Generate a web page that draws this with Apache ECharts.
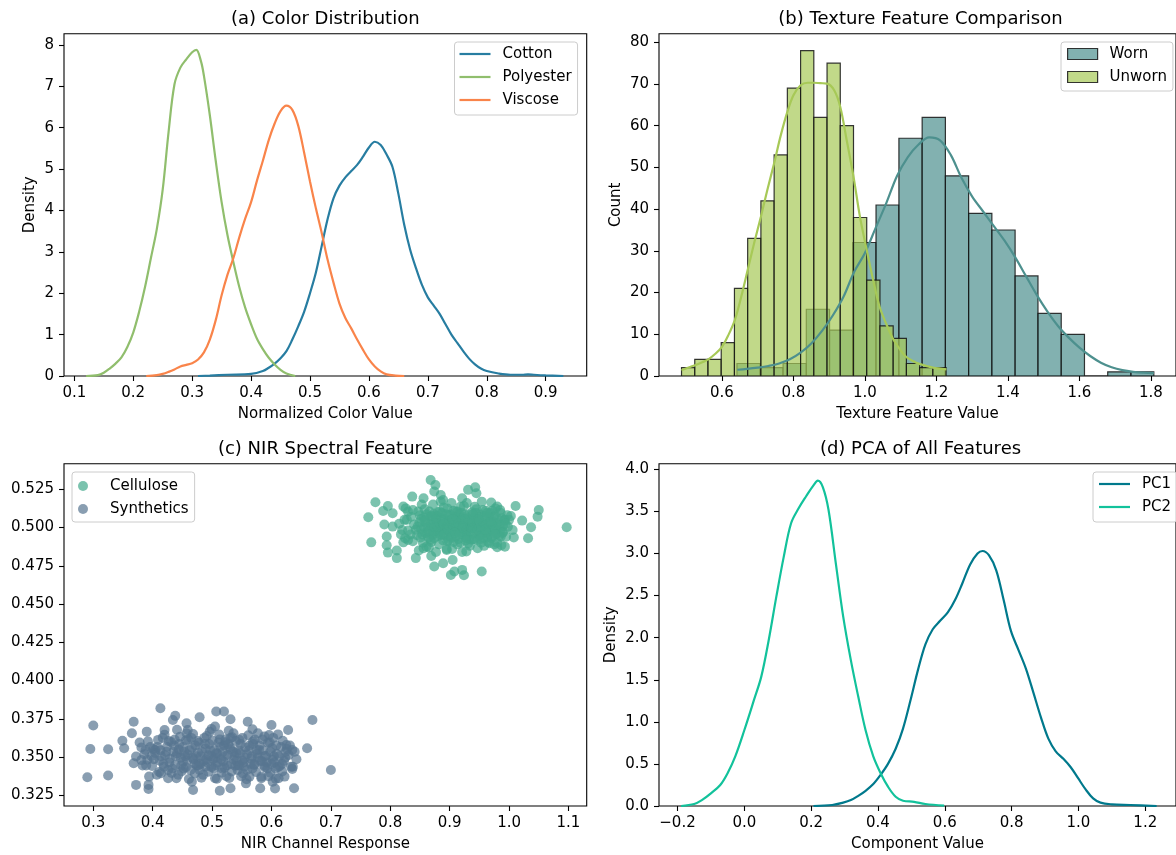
<!DOCTYPE html>
<html><head><meta charset="utf-8">
<script src="https://cdn.jsdelivr.net/npm/echarts@6/dist/echarts.min.js"></script>
<style>html,body{margin:0;padding:0;background:#fff}#c{width:1176px;height:855px}</style>
</head><body><div id="c"></div>
<script>
// ---------- (a) Color Distribution: KDE curves ----------
const cottonX = [0.31,0.33,0.36,0.40,0.42,0.43,0.44,0.45,0.46,0.47,0.48,0.49,0.50,0.51,0.52,0.53,0.54,0.55,0.56,0.57,0.58,0.59,0.60,0.61,0.62,0.63,0.64,0.65,0.66,0.67,0.68,0.69,0.70,0.71,0.72,0.73,0.74,0.75,0.76,0.77,0.78,0.79,0.80,0.82,0.84,0.86,0.87,0.88,0.90,0.93];
const cottonY = [0,0.01,0.03,0.05,0.12,0.2,0.3,0.43,0.6,0.88,1.2,1.55,2.0,2.5,3.15,3.8,4.3,4.6,4.8,4.95,5.1,5.3,5.52,5.66,5.58,5.35,5.05,4.4,3.65,3.05,2.6,2.2,1.9,1.7,1.5,1.25,1.0,0.8,0.6,0.42,0.28,0.18,0.12,0.06,0.03,0.03,0.04,0.03,0.015,0];
const polyX = [0.12,0.14,0.15,0.16,0.17,0.18,0.19,0.20,0.21,0.22,0.23,0.24,0.25,0.26,0.27,0.28,0.29,0.30,0.307,0.315,0.32,0.33,0.34,0.35,0.36,0.37,0.38,0.39,0.40,0.41,0.42,0.43,0.44,0.45,0.46,0.475];
const polyY = [0,0.02,0.08,0.18,0.3,0.45,0.7,1.05,1.55,2.15,2.85,3.55,4.5,5.9,7.05,7.45,7.65,7.82,7.88,7.6,7.25,6.3,5.2,4.2,3.4,2.75,2.15,1.65,1.25,0.9,0.65,0.44,0.28,0.15,0.06,0];
const viscX = [0.222,0.24,0.25,0.26,0.27,0.28,0.29,0.30,0.31,0.32,0.33,0.34,0.35,0.36,0.37,0.38,0.39,0.40,0.41,0.42,0.43,0.44,0.45,0.46,0.47,0.48,0.49,0.50,0.51,0.52,0.53,0.54,0.55,0.56,0.57,0.58,0.59,0.60,0.61,0.62,0.63,0.645,0.66];
const viscY = [0,0.02,0.05,0.1,0.16,0.23,0.27,0.31,0.4,0.57,0.88,1.35,1.95,2.45,2.85,3.35,3.8,4.2,4.72,5.2,5.7,6.1,6.4,6.53,6.43,6.05,5.4,4.7,4.05,3.45,2.8,2.25,1.75,1.4,1.15,0.88,0.63,0.4,0.23,0.11,0.04,0.01,0];
const aXTicks = [0.1,0.2,0.3,0.4,0.5,0.6,0.7,0.8,0.9];
const aYTicks = [0,1,2,3,4,5,6,7,8];

// ---------- (b) Texture Feature: histograms + KDE (counts) ----------
const wornEdges = [0.642,0.707,0.771,0.836,0.901,0.966,1.031,1.095,1.160,1.225,1.290,1.355,1.420,1.484,1.549,1.614,1.679,1.744,1.808];
const wornCounts = [3,2,3,16,11,32,41,57,62,48,39,35,24,15,10,0,1,1];
const unwornEdges = [0.487,0.524,0.561,0.598,0.635,0.672,0.709,0.746,0.783,0.820,0.857,0.894,0.931,0.968,1.005,1.042,1.079,1.116,1.153,1.190,1.227];
const unwornCounts = [2,4,4,8,21,33,42,53,69,78,62,75,60,38,23,12,9,3,2,2];
const wornKdeX = [0.643,0.67,0.70,0.73,0.76,0.79,0.82,0.85,0.88,0.91,0.94,0.97,1.00,1.03,1.06,1.09,1.12,1.15,1.18,1.21,1.24,1.27,1.30,1.33,1.36,1.39,1.42,1.45,1.48,1.51,1.54,1.57,1.60,1.63,1.66,1.69,1.72,1.75,1.78,1.808];
const wornKdeY = [1.5,1.7,2.0,2.4,3.0,4.0,5.6,7.8,10.8,14.5,19.0,25.0,29.5,35.5,41.5,48.0,52.5,55.5,57.2,56.5,53.0,47.5,43.0,39.5,36.0,32.5,28.5,24.0,19.5,15.5,12.0,9.2,6.8,4.8,3.2,2.1,1.4,1.0,0.8,0.7];
const unwornKdeX = [0.487,0.505,0.525,0.545,0.562,0.58,0.6,0.618,0.636,0.654,0.672,0.69,0.709,0.727,0.746,0.764,0.783,0.80,0.82,0.84,0.857,0.875,0.894,0.914,0.931,0.949,0.968,0.986,1.005,1.023,1.041,1.06,1.078,1.097,1.115,1.134,1.152,1.19,1.228];
const unwornKdeY = [1.4,2.0,2.6,3.3,4.0,5.2,7.0,9.8,13.4,19.0,25.4,31.8,38.2,44.6,51.0,57.5,63.3,67.3,69.7,70.3,70.3,70.2,70.1,68.5,64.5,56.5,47.8,38.2,30.2,23.0,16.6,12.4,9.0,6.5,4.6,3.6,2.9,2.0,1.6];
const bXTicks = [0.6,0.8,1.0,1.2,1.4,1.6,1.8];
const bYTicks = [0,10,20,30,40,50,60,70,80];

// ---------- (c) NIR Spectral Feature: scatter points [x, y] ----------
const cellulosePts = [
[0.763,0.5067],[0.768,0.4903],[0.775,0.5165],[0.788,0.5108],[0.796,0.514],[0.790,0.502],[0.794,0.4884],[0.796,0.4836],[0.811,0.480],[0.811,0.485],[0.804,0.5093],[0.822,0.5137],[0.837,0.5202],[0.822,0.4903],[0.843,0.480],[0.868,0.531],[0.876,0.5278],[0.874,0.5235],[0.885,0.5213],[0.869,0.4814],[0.874,0.4745],[0.889,0.4766],[0.902,0.469],[0.905,0.4788],[0.908,0.4712],[0.924,0.4688],[0.921,0.4723],[0.931,0.5246],[0.943,0.5263],[0.945,0.5224],[0.954,0.4712],[0.97,0.5163],[0.985,0.5115],[0.993,0.4875],[0.98,0.4871],[1.011,0.514],[1.022,0.5045],[1.037,0.5002],[1.032,0.493],[1.048,0.5071],[1.05,0.5115],[1.097,0.5002],[1.006,0.4984],[1.0,0.505],[0.99,0.4973],
[0.794,0.4941],[0.804,0.5006],[0.82,0.4984],[0.824,0.505],[0.83,0.5104],[0.83,0.4919],[0.856,0.4864],[0.895,0.4853],[0.928,0.4843],[0.947,0.4864],[0.967,0.4897],[0.986,0.4941],[0.993,0.505],[0.98,0.5137],[0.954,0.5169],[0.921,0.5191],[0.889,0.518],[0.856,0.5191],
[0.84,0.502],[0.845,0.495],[0.85,0.508],[0.852,0.499],[0.855,0.49],[0.858,0.512],[0.86,0.503],[0.862,0.496],[0.865,0.487],[0.867,0.507],[0.87,0.5],[0.872,0.515],[0.874,0.493],[0.876,0.504],[0.878,0.498],[0.88,0.51],[0.882,0.489],[0.884,0.501],[0.886,0.506],[0.888,0.495],[0.89,0.513],[0.892,0.499],[0.894,0.503],[0.896,0.491],[0.898,0.508],[0.9,0.497],[0.902,0.502],[0.904,0.486],[0.906,0.511],[0.908,0.5],[0.91,0.494],[0.912,0.505],[0.914,0.498],[0.916,0.509],[0.918,0.49],[0.92,0.503],[0.922,0.497],[0.924,0.514],[0.926,0.501],[0.928,0.493],[0.93,0.506],[0.932,0.499],[0.934,0.488],[0.936,0.504],[0.938,0.51],[0.94,0.496],[0.943,0.502],[0.946,0.492],[0.949,0.507],[0.952,0.499],[0.955,0.503],[0.958,0.488],[0.961,0.511],[0.964,0.497],[0.967,0.504],[0.97,0.493],[0.973,0.5],[0.976,0.508],[0.979,0.496],[0.982,0.503],[0.985,0.498],[0.988,0.506],[0.83,0.498],[0.835,0.507],[0.838,0.491],[0.848,0.485],[0.853,0.515],[0.868,0.492],[0.877,0.484],[0.885,0.517],[0.895,0.486],[0.903,0.516],[0.913,0.489],[0.921,0.484],[0.929,0.516],[0.937,0.492],[0.945,0.512],[0.953,0.49],[0.962,0.5],[0.975,0.489],[0.99,0.501],[0.995,0.494],[0.997,0.508],[0.825,0.493],[0.828,0.505],[0.857,0.5],[0.873,0.509],[0.887,0.5],[0.899,0.504],[0.909,0.507],[0.917,0.5],[0.927,0.497],[0.939,0.5],[0.95,0.495],[0.96,0.506],[0.972,0.511],[0.98,0.49],
[0.843,0.4985],[0.849,0.5035],[0.851,0.4935],[0.857,0.5065],[0.859,0.4965],[0.863,0.5005],[0.866,0.5105],[0.869,0.4905],[0.871,0.5045],[0.875,0.4975],[0.879,0.5075],[0.881,0.4945],[0.883,0.5025],[0.887,0.5095],[0.889,0.4915],[0.891,0.5055],[0.893,0.4985],[0.897,0.5015],[0.899,0.4945],[0.901,0.5085],[0.905,0.4975],[0.907,0.5035],[0.911,0.5005],[0.913,0.5105],[0.915,0.4925],[0.919,0.5065],[0.921,0.4955],[0.923,0.5025],[0.925,0.5085],[0.929,0.4985],[0.931,0.5045],[0.933,0.4925],[0.935,0.5005],[0.941,0.5065],[0.944,0.4975],[0.947,0.5025],[0.951,0.5085],[0.954,0.4955],[0.957,0.5015],[0.963,0.4935],[0.966,0.5065],[0.969,0.4985],[0.974,0.5035],[0.978,0.5005],[0.983,0.4945],[0.986,0.5095],[0.992,0.5045],[0.847,0.5105],[0.861,0.4875],[0.872,0.4955],[0.884,0.4955],[0.896,0.5125],[0.906,0.4905],[0.918,0.5135],[0.931,0.4895],[0.942,0.5135],[0.956,0.5115],[0.965,0.4905],[0.977,0.5125],[0.987,0.4885],[0.838,0.5115],[0.834,0.4955],[0.998,0.5005],[1.003,0.5075],[1.008,0.4935],[0.815,0.5025],[0.818,0.4955],[0.826,0.5125],
[0.846,0.5005],[0.852,0.5055],[0.854,0.4955],[0.861,0.5085],[0.864,0.4935],[0.868,0.5025],[0.873,0.4975],[0.877,0.5055],[0.880,0.5005],[0.885,0.4975],[0.888,0.5045],[0.891,0.4955],[0.894,0.5085],[0.897,0.4985],[0.900,0.5045],[0.903,0.4935],[0.906,0.5015],[0.909,0.4965],[0.912,0.5065],[0.915,0.5025],[0.917,0.4955],[0.920,0.5095],[0.923,0.4995],[0.926,0.5055],[0.929,0.4945],[0.932,0.5085],[0.935,0.4975],[0.938,0.5045],[0.941,0.4925],[0.944,0.5095],[0.947,0.4985],[0.950,0.5045],[0.953,0.5005],[0.956,0.4935],[0.959,0.5075],[0.962,0.4965],[0.965,0.5025],[0.968,0.5095],[0.971,0.4945],[0.974,0.5065],[0.977,0.4985],[0.981,0.5055],[0.984,0.5015],[0.989,0.4965],[0.994,0.5025],[0.865,0.4975],[0.870,0.5075],[0.883,0.5105],[0.898,0.4915],[0.910,0.5105],[0.927,0.4915],[0.939,0.5085],[0.952,0.4925],[0.963,0.5095],[0.976,0.4955],[0.858,0.5045],[0.874,0.5005],[0.890,0.5025],[0.905,0.5055],[0.922,0.5005],[0.937,0.4995],[0.948,0.5055],[0.960,0.4985],[0.970,0.5025]
];
const syntheticsPts = [
[0.290,0.3368],[0.295,0.3553],[0.300,0.3706],[0.325,0.3379],[0.325,0.3551],[0.349,0.3607],[0.352,0.3557],[0.365,0.3655],[0.368,0.3731],[0.372,0.3318],[0.368,0.3459],[0.390,0.3666],[0.393,0.3318],[0.393,0.3291],[0.413,0.3819],[0.438,0.3769],[0.434,0.3742],[0.457,0.372],[0.479,0.376],[0.468,0.3285],[0.507,0.3797],[0.52,0.3797],[0.513,0.328],[0.531,0.3747],[0.531,0.3296],[0.56,0.3731],[0.581,0.3296],[0.6,0.3709],[0.606,0.3294],[0.628,0.3677],[0.638,0.3296],[0.635,0.3422],[0.66,0.3557],[0.669,0.3742],[0.70,0.3415],[0.622,0.3372],[0.612,0.3361],
[0.372,0.3503],[0.557,0.3328],[0.602,0.3339],[0.636,0.3437],[0.635,0.3546],[0.625,0.3579],[0.596,0.3644],[0.505,0.3699],[0.459,0.3677],[0.42,0.3677],[0.404,0.3546],[0.388,0.3546],[0.381,0.348],[0.394,0.3372],[0.414,0.3394],[0.44,0.3361],[0.466,0.3339],[0.505,0.3361],[0.563,0.3372],[0.583,0.3372],
[0.42,0.3645],[0.446,0.3632],[0.468,0.3651],[0.491,0.3638],[0.512,0.3647],[0.534,0.3629],[0.561,0.3642],[0.588,0.3635],[0.611,0.3648],
[0.392,0.3603],[0.409,0.3612],[0.431,0.3598],[0.456,0.3609],[0.478,0.3594],[0.501,0.3606],[0.522,0.3597],[0.546,0.3611],[0.569,0.3601],[0.594,0.3593],[0.619,0.3607],
[0.381,0.3562],[0.401,0.3553],[0.424,0.3567],[0.444,0.3549],[0.466,0.3561],[0.489,0.3555],[0.514,0.3566],[0.531,0.3551],[0.556,0.3563],[0.579,0.3548],[0.601,0.3559],[0.626,0.3553],
[0.386,0.3519],[0.404,0.3527],[0.421,0.3512],[0.441,0.3524],[0.459,0.3516],[0.476,0.3529],[0.494,0.3511],[0.509,0.3523],[0.526,0.3514],[0.541,0.3526],[0.559,0.3518],[0.576,0.3522],[0.591,0.3509],[0.609,0.3521],[0.629,0.3513],
[0.391,0.3483],[0.412,0.3476],[0.429,0.3488],[0.451,0.3471],[0.469,0.3485],[0.486,0.3474],[0.502,0.3487],[0.519,0.3472],[0.536,0.3484],[0.551,0.3477],[0.566,0.3489],[0.584,0.3473],[0.602,0.3482],[0.621,0.3475],
[0.399,0.3441],[0.419,0.3436],[0.438,0.3447],[0.456,0.3433],[0.474,0.3445],[0.489,0.3438],[0.506,0.3446],[0.521,0.3431],[0.539,0.3443],[0.554,0.3437],[0.571,0.3448],[0.589,0.3434],[0.614,0.3442],[0.633,0.3436],
[0.411,0.3402],[0.432,0.3396],[0.449,0.3407],[0.471,0.3393],[0.494,0.3404],[0.516,0.3398],[0.533,0.3405],[0.552,0.3392],[0.574,0.3403],[0.598,0.3397],[0.618,0.3406],
[0.426,0.3362],[0.461,0.3357],[0.482,0.3365],[0.508,0.3358],[0.529,0.3363],[0.558,0.3355],[0.583,0.3361],[0.607,0.3359],
[0.441,0.3678],[0.499,0.3683],[0.528,0.3672],[0.568,0.3681],
[0.455,0.3505],[0.483,0.3535],[0.505,0.3495],[0.545,0.3545],[0.565,0.3455],[0.48,0.3455],[0.52,0.3575],[0.435,0.3535],[0.58,0.3575],[0.6,0.3455],
[0.398,0.3505],[0.413,0.3545],[0.428,0.3465],[0.436,0.3575],[0.447,0.3495],[0.452,0.3425],[0.462,0.3545],[0.465,0.3625],[0.473,0.3505],[0.479,0.3415],[0.488,0.3585],[0.492,0.3465],[0.497,0.3545],[0.503,0.3425],[0.511,0.3595],[0.515,0.3485],[0.518,0.3535],[0.525,0.3445],[0.531,0.3625],[0.538,0.3505],[0.543,0.3415],[0.548,0.3585],[0.553,0.3465],[0.562,0.3545],[0.568,0.3425],[0.572,0.3615],[0.577,0.3495],[0.586,0.3545],[0.592,0.3465],[0.597,0.3595],[0.604,0.3505],[0.611,0.3435],[0.616,0.3565],[0.623,0.3495],[0.407,0.3385],[0.417,0.3625],[0.443,0.3385],[0.457,0.3655],[0.485,0.3385],[0.496,0.3665],[0.524,0.3375],[0.536,0.3655],[0.549,0.3375],[0.577,0.3655],[0.595,0.3375],[0.603,0.3625],[0.383,0.3445],[0.378,0.3595],[0.642,0.3485],[0.639,0.3535],[0.471,0.3455],[0.507,0.3525],[0.541,0.3475],[0.458,0.3475],[0.53,0.3565],
[0.402,0.3485],[0.408,0.3565],[0.418,0.3455],[0.423,0.3535],[0.427,0.3605],[0.433,0.3425],[0.439,0.3505],[0.445,0.3585],[0.448,0.3445],[0.453,0.3535],[0.460,0.3615],[0.464,0.3415],[0.467,0.3495],[0.472,0.3575],[0.477,0.3445],[0.481,0.3505],[0.487,0.3625],[0.490,0.3485],[0.495,0.3585],[0.499,0.3435],[0.504,0.3545],[0.509,0.3465],[0.513,0.3615],[0.517,0.3425],[0.521,0.3505],[0.527,0.3585],[0.532,0.3455],[0.535,0.3535],[0.540,0.3605],[0.544,0.3445],[0.547,0.3525],[0.551,0.3625],[0.555,0.3495],[0.559,0.3415],[0.563,0.3575],[0.567,0.3505],[0.571,0.3455],[0.575,0.3545],[0.581,0.3475],[0.585,0.3615],[0.589,0.3505],[0.593,0.3425],[0.598,0.3535],[0.605,0.3465],[0.608,0.3575],[0.613,0.3505],[0.618,0.3455],[0.624,0.3535],[0.414,0.3505],[0.426,0.3415],[0.437,0.3615],[0.451,0.3565],[0.476,0.3605],[0.498,0.3505],[0.523,0.3615],[0.546,0.3445],[0.569,0.3585],[0.587,0.3445],[0.607,0.3425],[0.396,0.3565],[0.389,0.3445],[0.631,0.3575]
];
const cXTicks = [0.3,0.4,0.5,0.6,0.7,0.8,0.9,1.0,1.1];
const cYTicks = [0.325,0.350,0.375,0.400,0.425,0.450,0.475,0.500,0.525];

// ---------- (d) PCA KDE ----------
const pc1X = [0.207,0.263,0.296,0.319,0.341,0.363,0.386,0.408,0.43,0.453,0.475,0.497,0.52,0.542,0.564,0.586,0.609,0.631,0.653,0.676,0.698,0.713,0.732,0.754,0.776,0.798,0.821,0.843,0.865,0.888,0.91,0.932,0.955,0.977,0.999,1.021,1.044,1.066,1.1,1.155,1.234];
const pc1Y = [0,0.012,0.04,0.07,0.12,0.18,0.26,0.37,0.5,0.68,0.92,1.25,1.62,1.92,2.1,2.2,2.3,2.45,2.65,2.87,3.0,3.03,2.98,2.8,2.45,2.08,1.85,1.63,1.35,1.05,0.8,0.65,0.56,0.46,0.33,0.2,0.09,0.04,0.02,0.012,0];
const pc2X = [-0.189,-0.15,-0.127,-0.1,-0.072,-0.05,-0.027,0.0,0.029,0.051,0.073,0.096,0.118,0.14,0.163,0.185,0.207,0.22,0.235,0.252,0.274,0.296,0.319,0.341,0.363,0.386,0.408,0.43,0.453,0.475,0.508,0.542,0.598];
const pc2Y = [0,0.024,0.07,0.15,0.25,0.39,0.59,0.9,1.26,1.54,1.97,2.49,2.96,3.36,3.54,3.68,3.81,3.865,3.79,3.52,2.88,2.25,1.73,1.30,0.90,0.59,0.39,0.23,0.11,0.063,0.05,0.024,0.004];
const dXTicks = [-0.2,0.0,0.2,0.4,0.6,0.8,1.0,1.2];
const dYTicks = [0.0,0.5,1.0,1.5,2.0,2.5,3.0,3.5,4.0];

// ---------- build option ----------
const FONT = 'DejaVu Sans';
const C = {cotton:'#277da1', poly:'#90be6d', visc:'#f9844a', worn:'#4d908e', unworn:'#a7c957',
           cell:'#43aa8b', syn:'#577590', pc1:'#00798c', pc2:'#12c29b'};
const zip = (xs, ys) => xs.map((x, i) => [x, ys[i]]);
const bins = (edges, counts) => counts.map((c, i) => [edges[i], edges[i + 1], c]);

const grids = [
  {left:64, top:33.7, width:522.7, height:342.3},
  {left:659, top:33.7, width:523, height:342.3},
  {left:64, top:463.7, width:522.7, height:342.3},
  {left:659, top:463.7, width:523, height:342.3}
].map(g => Object.assign(g, {show:true, borderColor:'#000', borderWidth:1.1, backgroundColor:'rgba(0,0,0,0)', containLabel:false}));

function axis(idx, min, max, ticks, fmt, name, gap) {
  return {type:'value', gridIndex:idx, min:min, max:max, scale:true,
    axisLine:{show:false, onZero:false}, splitLine:{show:false},
    axisTick:{show:true, length:5, lineStyle:{color:'#000', width:1.1}, customValues:ticks},
    axisLabel:{customValues:ticks, formatter:fmt, margin:10, color:'#000', fontSize:15, fontFamily:FONT},
    name:name, nameLocation:'middle', nameGap:gap,
    nameTextStyle:{color:'#000', fontSize:15, fontFamily:FONT}};
}
const f1 = v => v.toFixed(1);
const f0 = v => String(Math.round(v));
const f3 = v => v.toFixed(3);
const fm = v => v.toFixed(1).replace('-', '\u2212');

function kde(name, xi, yi, data, color) {
  return {name:name, type:'line', xAxisIndex:xi, yAxisIndex:yi, data:data, showSymbol:false, symbol:'none',
    smooth:0.35, lineStyle:{color:color, width:2.2}, itemStyle:{color:color}, z:5, emphasis:{disabled:true}};
}
function hist(name, xi, yi, data, fill) {
  return {name:name, type:'custom', xAxisIndex:xi, yAxisIndex:yi, data:data, clip:true,
    encode:{x:[0,1], y:2}, itemStyle:{color:fill},
    renderItem:function(params, api){
      const p0 = api.coord([api.value(0), api.value(2)]);
      const p1 = api.coord([api.value(1), 0]);
      return {type:'rect', shape:{x:p0[0], y:p0[1], width:p1[0]-p0[0], height:p1[1]-p0[1]},
        style:{fill:fill, stroke:'rgba(20,20,20,0.85)', lineWidth:1.2}};
    }, z:2};
}
function titleAt(text, cx, top) {
  return {text:text, left:cx, top:top, textAlign:'center', padding:0,
    textStyle:{fontFamily:FONT, fontSize:18, fontWeight:'normal', color:'#000'}};
}
function legendAt(left, top, pad, items, iw, ih, icon) {
  return {show:true, orient:'vertical', left:left, top:top, padding:pad, itemGap:7,
    itemWidth:iw, itemHeight:ih, selectedMode:false,
    backgroundColor:'rgba(255,255,255,0.8)', borderColor:'#cccccc', borderWidth:1, borderRadius:3,
    textStyle:{fontFamily:FONT, fontSize:15, color:'#000', lineHeight:16, padding:[0,0,0,7]},
    data:items.map(it => ({name:it.name, icon:icon, itemStyle:it.style}))};
}

const option = {
  animation:false,
  backgroundColor:'#fff',
  textStyle:{fontFamily:FONT},
  title:[
    titleAt('(a) Color Distribution', 325.3, 10),
    titleAt('(b) Texture Feature Comparison', 920.5, 10),
    titleAt('(c) NIR Spectral Feature', 325.3, 440),
    titleAt('(d) PCA of All Features', 920.5, 440)
  ],
  grid:grids,
  xAxis:[
    axis(0, 0.0825, 0.9696, aXTicks, f1, 'Normalized Color Value', 31),
    axis(1, 0.424, 1.870, bXTicks, f1, 'Texture Feature Value', 31),
    axis(2, 0.2507, 1.1307, cXTicks, f1, 'NIR Channel Response', 31),
    axis(3, -0.2553, 1.292, dXTicks, fm, 'Component Value', 31)
  ],
  yAxis:[
    axis(0, 0, 8.27, aYTicks, f0, 'Density', 26),
    axis(1, 0, 82.06, bYTicks, f0, 'Count', 35),
    axis(2, 0.318, 0.5417, cYTicks, f3, '', 40),
    axis(3, 0, 4.067, dYTicks, f1, 'Density', 40)
  ],
  legend:[
    legendAt(454.5, 42, [4,6,7,5], [
      {name:'Cotton', style:{color:C.cotton}},
      {name:'Polyester', style:{color:C.poly}},
      {name:'Viscose', style:{color:C.visc}}], 31, 2.2, 'rect'),
    legendAt(1061, 42, [4,6,6,6], [
      {name:'Worn', style:{color:'rgba(77,144,142,0.7)', borderColor:'rgba(20,20,20,0.85)', borderWidth:1.2}},
      {name:'Unworn', style:{color:'rgba(167,201,87,0.7)', borderColor:'rgba(20,20,20,0.85)', borderWidth:1.2}}], 30, 11, 'rect'),
    legendAt(72, 472, [6,6,5,6], [
      {name:'Cellulose', style:{color:C.cell, opacity:0.7}},
      {name:'Synthetics', style:{color:C.syn, opacity:0.7}}], 30, 10, 'circle'),
    legendAt(1093, 472, [4,6,7,6], [
      {name:'PC1', style:{color:C.pc1}},
      {name:'PC2', style:{color:C.pc2}}], 31, 2.2, 'rect')
  ],
  series:[
    kde('Cotton', 0, 0, zip(cottonX, cottonY), C.cotton),
    kde('Polyester', 0, 0, zip(polyX, polyY), C.poly),
    kde('Viscose', 0, 0, zip(viscX, viscY), C.visc),
    hist('Worn', 1, 1, bins(wornEdges, wornCounts), 'rgba(77,144,142,0.7)'),
    hist('Unworn', 1, 1, bins(unwornEdges, unwornCounts), 'rgba(167,201,87,0.7)'),
    kde('Worn KDE', 1, 1, zip(wornKdeX, wornKdeY), C.worn),
    kde('Unworn KDE', 1, 1, zip(unwornKdeX, unwornKdeY), C.unworn),
    {name:'Cellulose', type:'scatter', xAxisIndex:2, yAxisIndex:2, data:cellulosePts, symbolSize:10,
      itemStyle:{color:C.cell, opacity:0.7}, emphasis:{disabled:true}},
    {name:'Synthetics', type:'scatter', xAxisIndex:2, yAxisIndex:2, data:syntheticsPts, symbolSize:10,
      itemStyle:{color:C.syn, opacity:0.7}, emphasis:{disabled:true}},
    kde('PC1', 3, 3, zip(pc1X, pc1Y), C.pc1),
    kde('PC2', 3, 3, zip(pc2X, pc2Y), C.pc2)
  ]
};
const chart = echarts.init(document.getElementById('c'), null, {renderer:'canvas', width:1176, height:855});
chart.setOption(option);
</script>
</body></html>
